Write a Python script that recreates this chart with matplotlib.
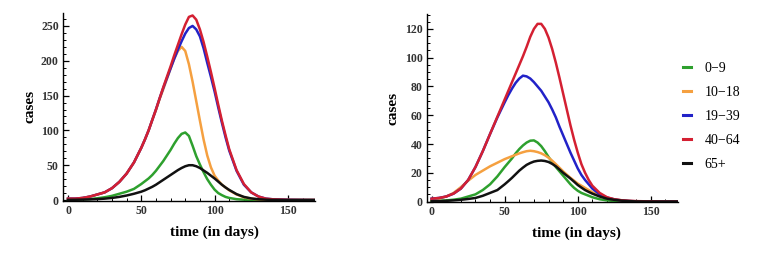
import numpy as np
import matplotlib
matplotlib.use("Agg")
import matplotlib.pyplot as plt
from matplotlib.ticker import MultipleLocator

# time grid (days), read finer around the peaks
days = ([0, 5, 10, 15, 20, 25, 30, 35, 40, 45]
        + [50, 52.5, 55, 57.5, 60, 62.5, 65, 67.5, 70, 72.5, 75, 77.5,
           80, 82.5, 85, 87.5, 90, 92.5, 95, 97.5, 100, 102.5, 105, 107.5]
        + [110, 115, 120, 125, 130, 135, 140, 150, 160, 170])

groups = ["0\u22129", "10\u221218", "19\u221239", "40\u221264", "65+"]
colors = ["#2ea02e", "#f5a040", "#2222c8", "#d42032", "#111111"]

# left panel
left_0_9 = [0.5, 0.7, 1, 1.5, 2.5, 4, 6, 9, 12, 16,
            23, 27, 31, 36, 42, 49, 56, 64, 72, 81, 89, 95,
            97, 92, 78, 63, 51, 40, 30, 22, 15, 10, 7, 4.5,
            3, 1.2, 0.5, 0.2, 0, 0, 0, 0, 0, 0]
left_10_18 = [2, 2, 3, 5, 8, 11, 17, 26, 38, 54,
              75, 87, 100, 115, 129, 145, 159, 174, 189, 203, 214, 220,
              214, 195, 170, 142, 114, 87, 64, 47, 35, 28, 22, 18,
              14, 8, 4, 2, 1, 0.4, 0.2, 0, 0, 0]
left_19_39 = [2, 2, 3, 5, 8, 11, 17, 26, 38, 54,
              75, 87, 100, 115, 130, 146, 161, 175, 189, 203, 216, 228,
              239, 247, 250, 245, 235, 218, 197, 177, 156, 133, 111, 90,
              71, 42, 22, 11, 5, 2, 1, 0.3, 0.1, 0]
left_40_64 = [2, 2, 3, 5, 8, 11, 17, 26, 38, 54,
              75, 87, 100, 115, 130, 146, 162, 177, 192, 208, 223, 238,
              252, 263, 265, 259, 245, 227, 206, 184, 161, 137, 114, 93,
              73, 43, 23, 11, 5, 2, 1, 0.3, 0.1, 0]
left_65 = [0.3, 0.4, 0.6, 0.9, 1.3, 2, 3, 4.5, 6.5, 9,
           12, 14, 16.5, 19, 22, 25.5, 29, 32.5, 36, 39.5, 43, 46,
           48.5, 50, 50, 48.5, 46, 42.5, 39, 35, 31, 26.5, 22, 18,
           14.5, 8.5, 4.5, 2.3, 1.1, 0.5, 0.2, 0, 0, 0]

# right panel
right_0_9 = [0.3, 0.5, 0.8, 1.3, 2, 3.5, 5, 8, 12, 17.5,
             24, 27, 30, 33.5, 36.5, 39, 41, 42.3, 42.5, 41, 38.5, 35,
             31, 27.5, 24, 21, 18, 15, 12, 9.5, 7.5, 6, 5, 4,
             3, 1.6, 0.8, 0.4, 0.2, 0, 0, 0, 0, 0]
right_10_18 = [1.5, 2, 3.5, 6, 10, 14.5, 18.5, 21.5, 24.5, 27,
               29.5, 30.5, 31.5, 32.5, 33.5, 34.3, 35, 35.3, 35, 34.4, 33.5, 32.2,
               30.5, 28.4, 26, 23.5, 21, 18.7, 16.5, 14.5, 12.5, 11, 9.5, 8,
               6.5, 4, 2.5, 1.5, 0.8, 0.4, 0.2, 0, 0, 0]
right_19_39 = [2, 2.5, 3.5, 5.5, 9, 15, 24, 35, 47, 58.5,
               69, 74, 78.5, 82.5, 85.5, 87.5, 87, 85.5, 83, 80, 77, 73,
               69, 64, 58.5, 52, 46, 40, 34, 28.5, 23, 18.5, 15, 12,
               9, 5, 2.8, 1.5, 0.8, 0.4, 0.2, 0, 0, 0]
right_40_64 = [2, 2.5, 3.5, 5.5, 9, 15, 24, 35, 47, 59,
               71, 77, 83, 89, 95, 101, 107.5, 114.5, 120, 123.5, 123.5, 120,
               114, 106, 96.5, 86, 75, 64, 53, 43, 34, 26, 20, 15,
               11, 6, 3, 1.6, 0.9, 0.5, 0.3, 0.1, 0, 0]
right_65 = [0.2, 0.3, 0.5, 0.8, 1.2, 1.8, 2.5, 4, 6, 8,
            12, 14.2, 16.5, 19, 21.5, 23.6, 25.5, 26.8, 27.8, 28.3, 28.5, 28.2,
            27.5, 26.2, 24.5, 22.3, 20, 18, 16, 13.8, 11.5, 9.7, 8, 6.7,
            5.5, 3.5, 2, 1.2, 0.6, 0.3, 0.1, 0, 0, 0]

left_series = [left_0_9, left_10_18, left_19_39, left_40_64, left_65]
right_series = [right_0_9, right_10_18, right_19_39, right_40_64, right_65]

plt.rcParams['font.family'] = ['Liberation Serif', 'DejaVu Serif']

fig = plt.figure(figsize=(7.63, 2.63), dpi=100)
ax1 = fig.add_axes([0.0826, 0.2357, 0.330, 0.716])
ax2 = fig.add_axes([0.5592, 0.232, 0.329, 0.715])


def style_axis(ax, ylim, ymajor, yminor):
    ax.set_xlim(-3.4, 168.4)
    ax.set_ylim(*ylim)
    for s in ['top', 'right']:
        ax.spines[s].set_visible(False)
    for s in ['left', 'bottom']:
        ax.spines[s].set_linewidth(1.0)
    ax.xaxis.set_major_locator(MultipleLocator(50))
    ax.xaxis.set_minor_locator(MultipleLocator(10))
    ax.yaxis.set_major_locator(MultipleLocator(ymajor))
    ax.yaxis.set_minor_locator(MultipleLocator(yminor))
    ax.tick_params(which='major', direction='in', length=4, width=0.9,
                   labelsize=8.5, labelcolor='#333333', pad=3)
    ax.tick_params(which='minor', direction='in', length=2, width=0.7)
    for lab in ax.get_xticklabels() + ax.get_yticklabels():
        lab.set_fontweight('bold')
    ax.set_ylabel('cases', fontsize=11, fontweight='bold')
    ax.set_xlabel('time (in days)', fontsize=11, fontweight='bold')


for ys, c, g in zip(left_series, colors, groups):
    ax1.plot(days, ys, color=c, lw=1.8, label=g, solid_joinstyle='round')
for ys, c, g in zip(right_series, colors, groups):
    ax2.plot(days, ys, color=c, lw=1.8, label=g, solid_joinstyle='round')

style_axis(ax1, (-1.4, 269), 50, 10)
style_axis(ax2, (-0.3, 130.4), 20, 5)

ax1.yaxis.set_label_coords(-0.131, 0.5)
ax2.yaxis.set_label_coords(-0.136, 0.5)
ax1.xaxis.set_label_coords(0.6, -0.165)
ax2.xaxis.set_label_coords(0.596, -0.165)
for a in (ax1, ax2):
    a.xaxis.label.set_va('center')
    a.yaxis.label.set_va('center')

handles, labels = ax2.get_legend_handles_labels()
leg = fig.legend(handles, labels, loc='upper left', bbox_to_anchor=(0.895, 0.766),
                 frameon=False, fontsize=10, handlelength=0.55, handletextpad=1.0,
                 labelspacing=0.8, borderpad=0, borderaxespad=0)
for line in leg.get_lines():
    line.set_linewidth(2.2)

fig.savefig('out.png', dpi=100)
